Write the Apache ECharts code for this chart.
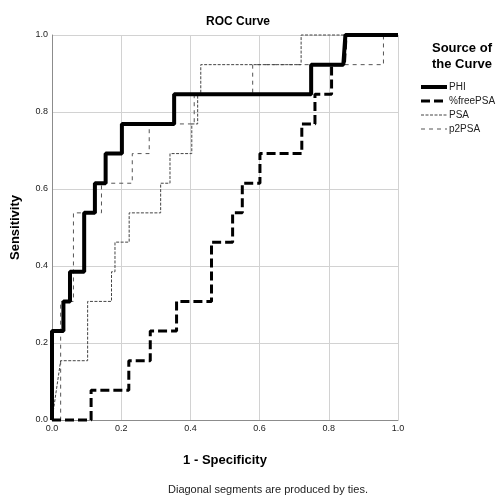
<!DOCTYPE html>
<html>
<head>
<meta charset="utf-8">
<script src="https://cdn.jsdelivr.net/npm/echarts@6/dist/echarts.min.js"></script>
<style>
  html, body { margin: 0; padding: 0; background: #fff; }
  #container { width: 500px; height: 499px; }
</style>
</head>
<body>
<div id="container"></div>
<script>
//初始化echarts
var dom = document.getElementById('container');
var myChart = echarts.init(dom, null, { renderer: 'canvas' });

//曲线的点 (1 - Specificity, Sensitivity)
var phiX = [0, 0, 0.033, 0.033, 0.052, 0.052, 0.093, 0.093, 0.124, 0.124, 0.155, 0.155, 0.202, 0.202, 0.353, 0.353, 0.749, 0.749, 0.842, 0.848, 1];
var phiY = [0, 0.231, 0.231, 0.308, 0.308, 0.385, 0.385, 0.538, 0.538, 0.615, 0.615, 0.692, 0.692, 0.769, 0.769, 0.846, 0.846, 0.923, 0.923, 1, 1];

var freeX = [0, 0.113, 0.113, 0.222, 0.222, 0.284, 0.284, 0.360, 0.360, 0.461, 0.461, 0.522, 0.522, 0.550, 0.550, 0.601, 0.601, 0.722, 0.722, 0.760, 0.760, 0.808, 0.808, 0.845, 0.850, 1];
var freeY = [0, 0, 0.077, 0.077, 0.154, 0.154, 0.231, 0.231, 0.308, 0.308, 0.462, 0.462, 0.538, 0.538, 0.615, 0.615, 0.692, 0.692, 0.769, 0.769, 0.846, 0.846, 0.923, 0.923, 1, 1];

var psaX = [0, 0.025, 0.103, 0.103, 0.172, 0.172, 0.182, 0.182, 0.223, 0.223, 0.314, 0.314, 0.341, 0.341, 0.404, 0.404, 0.421, 0.421, 0.430, 0.430, 0.720, 0.720, 1];
var psaY = [0, 0.154, 0.154, 0.308, 0.308, 0.385, 0.385, 0.462, 0.462, 0.538, 0.538, 0.615, 0.615, 0.692, 0.692, 0.769, 0.769, 0.846, 0.846, 0.923, 0.923, 1, 1];

var p2X = [0, 0.025, 0.025, 0.062, 0.062, 0.143, 0.143, 0.232, 0.232, 0.281, 0.281, 0.411, 0.411, 0.580, 0.580, 0.958, 0.958, 1];
var p2Y = [0, 0, 0.308, 0.308, 0.538, 0.538, 0.615, 0.615, 0.692, 0.692, 0.769, 0.769, 0.846, 0.846, 0.923, 0.923, 1, 1];

var seriesNames = ['PHI', '%freePSA', 'PSA', 'p2PSA'];
var tickValues = [0, 0.2, 0.4, 0.6, 0.8, 1.0];

function pairUp(xs, ys) {
  return xs.map(function (x, i) { return [x, ys[i]]; });
}

var font = 'Liberation Sans, Arial, sans-serif';

//每条线的样式
var lineStyles = [
  { color: '#000', width: 4, type: 'solid' },
  { color: '#000', width: 3, type: [9, 4] },
  { color: '#444', width: 1, type: [3, 1.5] },
  { color: '#555', width: 1, type: [4, 4] }
];

function makeAxis(name, nameGap, rotate) {
  return {
    type: 'value',
    min: tickValues[0],
    max: tickValues[tickValues.length - 1],
    interval: 0.2,
    name: name,
    nameLocation: 'middle',
    nameGap: nameGap,
    nameRotate: rotate,
    nameTextStyle: { fontFamily: font, fontWeight: 'bold', fontSize: 13, color: '#000' },
    axisLine: { show: true, lineStyle: { color: '#8c8c8c', width: 1 } },
    axisTick: { show: false },
    axisLabel: {
      fontFamily: font, fontSize: 9, color: '#222', margin: 4,
      formatter: function (v) { return v.toFixed(1); }
    },
    splitLine: { show: true, lineStyle: { color: '#d2d2d2', width: 1 } }
  };
}

var allData = [pairUp(phiX, phiY), pairUp(freeX, freeY), pairUp(psaX, psaY), pairUp(p2X, p2Y)];
var mySeries = seriesNames.map(function (name, i) {
  return {
    name: name, type: 'line', data: allData[i], symbol: 'none', clip: false, z: 5 - i,
    lineStyle: lineStyles[i], itemStyle: { color: lineStyles[i].color }
  };
});

var option = {
  animation: false,
  backgroundColor: '#fff',
  title: {
    text: 'ROC Curve',
    left: 233, top: 11, textAlign: 'center',
    textStyle: { fontFamily: font, fontWeight: 'bold', fontSize: 12, color: '#000' }
  },
  grid: { left: 52, top: 35, width: 346, height: 385, containLabel: false, outerBoundsMode: 'none' },
  xAxis: makeAxis('1 - Specificity', 34, 0),
  yAxis: makeAxis('Sensitivity', 30, 90),
  legend: {
    data: seriesNames.map(function (name, i) {
      return { name: name, lineStyle: lineStyles[i] };
    }),
    orient: 'vertical',
    left: 419, top: 82,
    padding: 0,
    itemWidth: 26, itemHeight: 12, itemGap: 4,
    itemStyle: { opacity: 0 },
    textStyle: { fontFamily: font, fontSize: 10, color: '#222', padding: [0, 0, 0, -3] }
  },
  graphic: [
    {
      type: 'text', left: 432, top: 40,
      style: { text: 'Source of\nthe Curve', font: 'bold 13px ' + font, fill: '#000', textAlign: 'center', lineHeight: 16 }
    },
    {
      type: 'text', left: 168, top: 484,
      style: { text: 'Diagonal segments are produced by ties.', font: '11px ' + font, fill: '#222' }
    }
  ],
  series: mySeries
};

myChart.setOption(option);
window.addEventListener('resize', myChart.resize);
</script>
</body>
</html>
